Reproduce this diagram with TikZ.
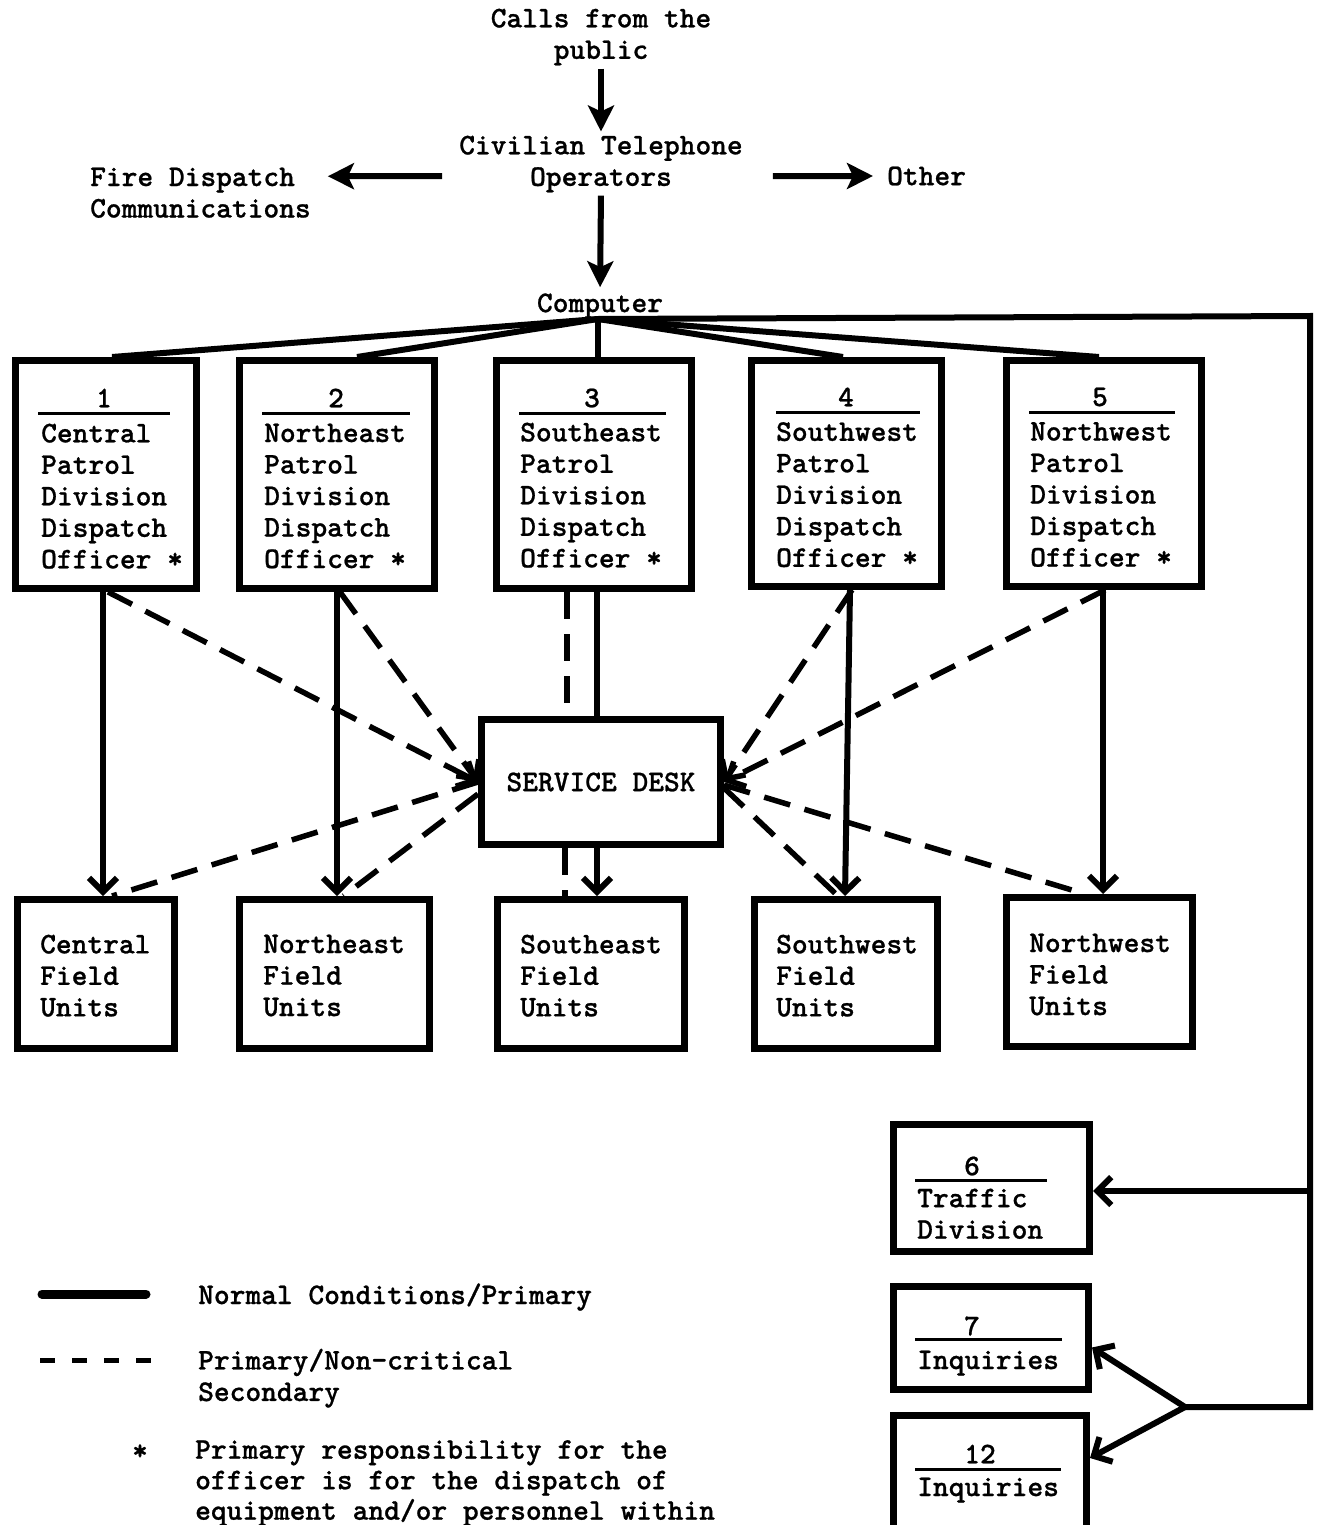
\documentclass[tikz,border=0pt]{standalone}
\usepackage{fontspec}
\usetikzlibrary{arrows.meta}
\newfontfamily\twfam{lmmonolt10-bold.otf}[FakeBold=0.8]
\newcommand\twfont{\fontsize{30}{31.5}\selectfont\twfam}
\begin{document}
\begin{tikzpicture}[x=1pt,y=-1pt,
  box/.style={draw, line width=7pt, rectangle, inner sep=0pt},
  txt/.style={font=\twfont, inner sep=0pt, align=left},
  ctxt/.style={font=\twfont, inner sep=0pt, align=center},
  conn/.style={line width=6pt},
  dsh/.style={line width=5.5pt, dash pattern=on 27pt off 15pt},
  vee/.style={-{Straight Barb[length=14pt,width=28pt]}},
  big/.style={-{Stealth[length=26pt,width=26pt,inset=6pt]}},
  uline/.style={line width=3pt}]
\useasboundingbox (0,0) rectangle (1319,1525);
\clip (0,0) rectangle (1319,1525);

% top part
\node[ctxt, anchor=north] (calls) at (601,8.5) {Calls from the\\public};
\node[ctxt, anchor=north] (civ) at (601,135.5) {Civilian Telephone\\Operators};
\node[txt, anchor=north west] (fire) at (90,167.5) {Fire Dispatch\\Communications};
\node[txt, anchor=west] (other) at (887,176) {Other};
\node[ctxt] (comp) at (600,306) {Computer};

\draw[conn, big, shorten <=3pt, shorten >=4pt] (calls.south) -- (civ.north);
\draw[conn, big, shorten <=3pt, shorten >=6pt] (civ.south) -- (comp.north);
\draw[conn, big, shorten <=17pt, shorten >=17pt] ([yshift=-12pt]civ.west) -- ([yshift=16.5pt]fire.east);
\draw[conn, big, shorten <=30pt, shorten >=14pt] ([yshift=-12pt]civ.east) -- (other.west);

% patrol division boxes
\node[box, minimum width=181pt, minimum height=228pt] (b1) at (106,474.5) {};
\node[box, minimum width=195pt, minimum height=228pt] (b2) at (337,474.5) {};
\node[box, minimum width=195pt, minimum height=228pt] (b3) at (594,474.5) {};
\node[box, minimum width=190pt, minimum height=226pt] (b4) at (846.5,473.5) {};
\node[box, minimum width=195pt, minimum height=226pt] (b5) at (1104,473.5) {};

\node[ctxt] (n1) at (104,398) {1};
\node[ctxt] (n2) at (336,398) {2};
\node[ctxt] (n3) at (592,398) {3};
\node[ctxt] (n4) at (846,397) {4};
\node[ctxt] (n5) at (1100,397) {5};
\draw[uline] (38,413) -- (170,413);
\draw[uline] (262,413) -- (410,413);
\draw[uline] (519,413) -- (666,413);
\draw[uline] (776,412) -- (920,412);
\draw[uline] (1029,412) -- (1175,412);

\node[txt, anchor=north west] (t1) at (41,423.5) {Central\\Patrol\\Division\\Dispatch\\Officer *};
\node[txt, anchor=north west] (t2) at (264,423.5) {Northeast\\Patrol\\Division\\Dispatch\\Officer *};
\node[txt, anchor=north west] (t3) at (520,422.5) {Southeast\\Patrol\\Division\\Dispatch\\Officer *};
\node[txt, anchor=north west] (t4) at (776,422) {Southwest\\Patrol\\Division\\Dispatch\\Officer *};
\node[txt, anchor=north west] (t5) at (1030,422) {Northwest\\Patrol\\Division\\Dispatch\\Officer *};

% service desk
\node[box, minimum width=239pt, minimum height=125pt, font=\twfont] (sd) at (601,782) {SERVICE DESK};

% field units
\node[box, minimum width=157pt, minimum height=149pt] (f1) at (96,974) {};
\node[box, minimum width=190pt, minimum height=149pt] (f2) at (334.5,974) {};
\node[box, minimum width=187pt, minimum height=149pt] (f3) at (591,974) {};
\node[box, minimum width=183pt, minimum height=149pt] (f4) at (846,974) {};
\node[box, minimum width=186pt, minimum height=149pt] (f5) at (1099.5,972) {};
\node[txt, anchor=north west] (u1) at (40,934.5) {Central\\Field\\Units};
\node[txt, anchor=north west] (u2) at (263,934.5) {Northeast\\Field\\Units};
\node[txt, anchor=north west] (u3) at (520,934.5) {Southeast\\Field\\Units};
\node[txt, anchor=north west] (u4) at (776,934.5) {Southwest\\Field\\Units};
\node[txt, anchor=north west] (u5) at (1029,933.5) {Northwest\\Field\\Units};

% traffic / inquiries boxes
\node[box, minimum width=196pt, minimum height=127pt] (b6) at (991.5,1188) {};
\node[box, minimum width=195pt, minimum height=103pt] (b7) at (991,1337.5) {};
\node[box, minimum width=193pt, minimum height=121pt] (b12) at (990,1476) {};
\node[ctxt] (n6) at (972,1166) {6};
\draw[uline] (915,1180) -- (1047,1180);
\node[txt, anchor=north west] (t6) at (917,1188.5) {Traffic\\Division};
\node[ctxt] (n7) at (972,1326) {7};
\draw[uline] (915,1339) -- (1062,1339);
\node[txt, anchor=north west] (t7) at (917,1350.5) {Inquiries};
\node[ctxt] (n12) at (980,1454) {12};
\draw[uline] (915,1469) -- (1061,1469);
\node[txt, anchor=north west] (t12) at (917,1477.5) {Inquiries};

% computer fan-out
\coordinate (hub) at (598,319);
\coordinate (cR) at (1310,316);
\coordinate (tj) at (1310,1191);
\coordinate (cS) at (1310,1407);
\coordinate (split) at (1185,1407);
\draw[conn] (hub) -- ([xshift=6pt]b1.north);
\draw[conn] (hub) -- ([xshift=20pt]b2.north);
\draw[conn] (hub) -- ([xshift=4pt]b3.north);
\draw[conn] (hub) -- ([xshift=-3.5pt]b4.north);
\draw[conn] (hub) -- ([xshift=-5pt]b5.north);
\draw[line width=6pt, line join=miter] (hub) -- (cR) -- (cS) -- (split);
\draw[line width=6pt, vee] (tj) -- ([yshift=-3pt]b6.east);
\draw[line width=6pt, vee] (split) -- ([yshift=-10pt]b7.east);
\draw[line width=6pt, vee] (split) -- ([yshift=18pt]b12.east);

% division to field units (solid)
\draw[conn, vee] ([xshift=-3pt]b1.south) -- ([xshift=7pt]f1.north);
\draw[conn, vee] (b2.south) -- ([xshift=2.5pt]f2.north);
\draw[conn] ([xshift=3pt]b3.south) -- ([xshift=-4pt]sd.north);
\draw[conn, vee] ([xshift=-4pt]sd.south) -- ([xshift=6pt]f3.north);
\draw[conn, vee] ([xshift=3.5pt]b4.south) -- ([xshift=-1pt]f4.north);
\draw[conn, vee] ([xshift=-1pt]b5.south) -- ([xshift=3.5pt]f5.north);

% dashed
\draw[dsh] ([xshift=-27pt]b3.south) -- ([xshift=-34pt]sd.north);
\draw[dsh] ([xshift=-36pt]sd.south) -- ([xshift=-26pt]f3.north);
\draw[dsh, vee] ([xshift=2pt]b1.south) -- (sd.west);
\draw[dsh, vee] ([xshift=3pt]b2.south) -- (sd.west);
\draw[dsh, vee] ([xshift=5.5pt]b4.south) -- (sd.east);
\draw[dsh, vee] ([xshift=1pt]b5.south) -- (sd.east);
\draw[dsh] (sd.west) -- ([xshift=16pt]f1.north);
\draw[dsh] ([yshift=-12pt]sd.west) -- ([xshift=9pt]f2.north);
\draw[dsh] ([yshift=-6pt]sd.east) -- ([xshift=-8pt]f4.north);
\draw[dsh] ([yshift=-3pt]sd.east) -- ([xshift=-14.5pt]f5.north);

% legend
\draw[line width=9pt, line cap=round] (42,1294) -- (146,1294);
\node[txt, anchor=west] (l1) at (198,1297) {Normal Conditions/Primary};
\draw[line width=5pt, dash pattern=on 15pt off 17pt] (40,1360) -- (151,1360);
\node[txt, anchor=north west] (l2) at (198,1348.5) {Primary/Non-critical\\Secondary};
\node[txt, anchor=base] (l3) at (140,1460) {*};
\node[txt, anchor=north west, font=\fontsize{30}{30.5}\selectfont\twfam] (l4) at (195,1440) {Primary responsibility for the\\officer is for the dispatch of\\equipment and/or personnel within};
\end{tikzpicture}
\end{document}
